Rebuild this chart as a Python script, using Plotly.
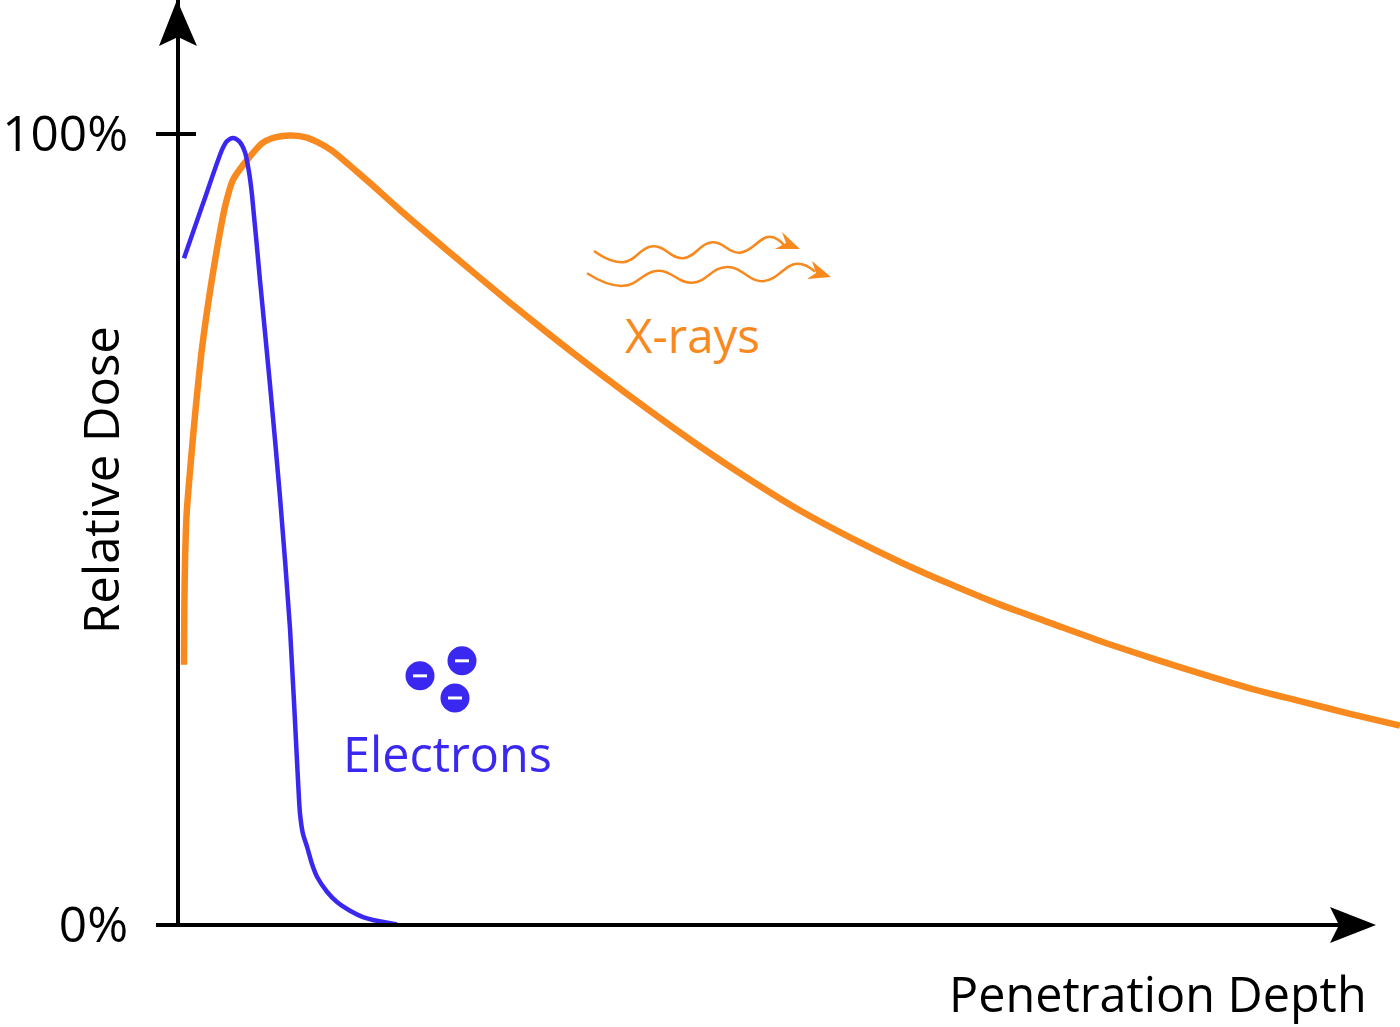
import plotly.graph_objects as go

# depth is in arbitrary units, dose in % of the maximum
xray_depth = [6, 6.3, 7, 8.7, 12.7, 17.5, 24, 33, 40, 47, 55, 69, 85, 98, 112, 127, 139, 154, 172, 192, 222, 272, 322, 372,
              422, 472, 522, 572, 622, 672, 722, 772, 822, 872, 922, 972, 1022, 1072, 1122, 1172, 1222]
xray_dose = [32.9, 39.4, 45.8, 52.1, 58.4, 65.1, 72.9, 80.9, 86.2, 90.8, 94.2, 96.7, 98.9, 99.6, 99.8, 99.6, 99.0, 97.9,
             96.0, 93.8, 90.4, 85.0, 79.7, 74.6, 69.7, 65.0, 60.5, 56.3, 52.4, 49.0, 45.9, 43.1, 40.5, 38.2, 35.9, 33.8,
             31.8, 29.9, 28.3, 26.7, 25.2]
electron_depth = [6, 25, 44, 49, 55, 61, 67, 71, 74, 82, 92, 102, 112, 120, 122, 125, 129, 134, 139, 149, 159, 172, 185,
                  200, 219]
electron_dose = [84.3, 91.2, 98.0, 99.1, 99.5, 99.1, 97.7, 95.2, 92.3, 81.5, 68.3, 54.1, 37.5, 18.3, 14.1, 11.5, 9.9, 7.7,
                 6.1, 4.2, 2.9, 1.8, 1.0, 0.5, 0.06]

# little pictograms next to the labels
wave1_x = [416, 445, 475, 505, 534, 562, 592, 607]
wave1_y = [85.2, 83.8, 85.8, 84.3, 86.3, 85.0, 87.0, 85.8]
wave2_x = [409, 445, 480, 514, 549, 585, 619, 637]
wave2_y = [82.4, 80.8, 82.7, 81.2, 83.2, 81.4, 83.6, 82.6]
particle_x = [242, 284, 277]
particle_y = [31.5, 33.4, 28.7]

tick_vals = [0, 100]
tick_text = ['0%', '100%']

ORANGE = '#f7891f'
BLUE = '#3a28f0'
FONT = 'Open Sans'
W, H = 1400, 1027


def px(x):
    return x / W


def py(y):
    return 1 - y / H


def head(points, color):
    path = 'M ' + ' L '.join('%.5f,%.5f' % (px(a), py(b)) for a, b in points) + ' Z'
    return dict(type='path', xref='paper', yref='paper', path=path, line_width=0, fillcolor=color)


def label(text, x, y, color='black', size=48.5, anchor='left', angle=0):
    return dict(text=text, x=px(x), y=py(y), xref='paper', yref='paper', showarrow=False, xanchor=anchor,
                yanchor='middle', textangle=angle, font=dict(family=FONT, size=size, color=color))


fig = go.Figure()
fig.add_trace(go.Scatter(x=xray_depth, y=xray_dose, mode='lines',
                         line=dict(color=ORANGE, width=6.5, shape='spline', smoothing=0.7)))
fig.add_trace(go.Scatter(x=electron_depth, y=electron_dose, mode='lines',
                         line=dict(color=BLUE, width=4.5, shape='spline', smoothing=0.7)))
for wx, wy in [(wave1_x, wave1_y), (wave2_x, wave2_y)]:
    fig.add_trace(go.Scatter(x=wx, y=wy, mode='lines', line=dict(color=ORANGE, width=2.5, shape='spline', smoothing=1.3)))
fig.add_trace(go.Scatter(x=particle_x, y=particle_y, mode='markers', marker=dict(color=BLUE, size=29)))
fig.add_trace(go.Scatter(x=particle_x, y=particle_y, mode='markers',
                         marker=dict(symbol='line-ew', size=10, line=dict(color='white', width=3))))

shapes = [
    head([(177, 0), (159, 46), (178, 37), (197, 46)], 'black'),
    head([(1376, 925), (1330, 907), (1339, 925), (1330, 943)], 'black'),
    head([(800, 249), (782, 232), (786, 243), (775, 249)], ORANGE),
    head([(831, 277), (812, 261), (816, 273), (807, 279)], ORANGE),
    # the x axis stops at its arrow while the curve runs on to the page edge
    dict(type='line', xref='paper', yref='paper', x0=px(176), x1=px(1340), y0=py(925), y1=py(925),
         line=dict(color='black', width=4)),
    # the 100% tick crosses the axis
    dict(type='line', xref='paper', yref='y', x0=px(178), x1=px(196), y0=100, y1=100,
         line=dict(color='black', width=4)),
]

fig.update_layout(
    width=W, height=H, margin=dict(l=0, r=0, t=0, b=0), showlegend=False, hovermode=False,
    paper_bgcolor='white', plot_bgcolor='white', shapes=shapes,
    annotations=[
        label('Relative Dose', 100, 480, size=49, anchor='center', angle=-90),
        label('Penetration Depth', 1369, 993, anchor='right'),
        label('X-rays', 623, 334, color=ORANGE, size=47.5),
        label('Electrons', 341, 753, color=BLUE),
    ],
)
fig.update_xaxes(domain=[px(180), 1], range=[2, 1222], automargin=False, showgrid=False, zeroline=False,
                 showticklabels=False, showline=False, ticks='')
fig.update_yaxes(domain=[py(925), 1], range=[0, 925 / 7.91], automargin=False, showgrid=False, zeroline=False,
                 showline=True, linecolor='black', linewidth=4, tickvals=tick_vals, ticktext=tick_text, ticks='outside',
                 ticklen=20, tickwidth=4, tickcolor='black', ticklabelstandoff=18,
                 tickfont=dict(family=FONT, size=49.5, color='black'))

fig.write_html("out.html", config={'displayModeBar': False}, post_script="document.body.style.margin='0';")
